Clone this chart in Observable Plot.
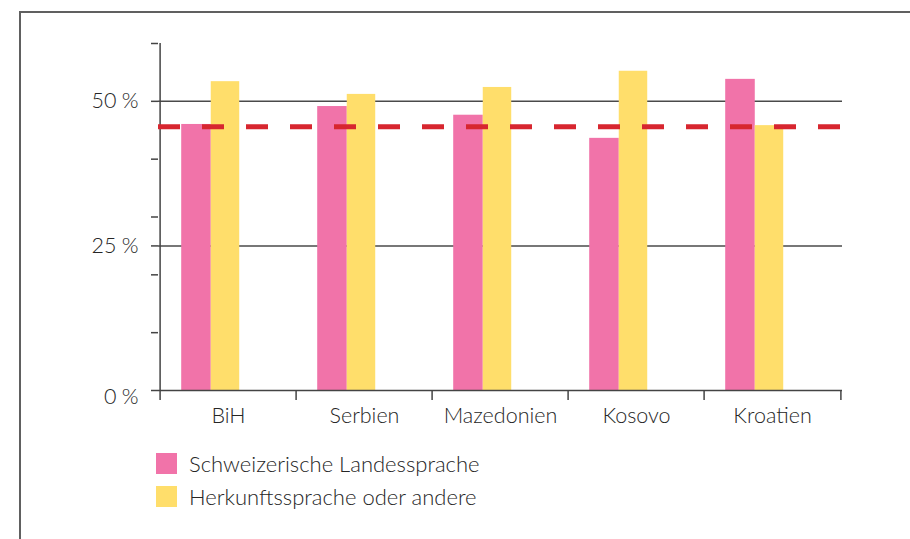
<!DOCTYPE html>
<html>
<head>
<meta charset="utf-8">
<script src="https://cdn.jsdelivr.net/npm/d3@7"></script>
<script src="https://cdn.jsdelivr.net/npm/@observablehq/plot@0.6"></script>
<style>
  html, body { margin: 0; padding: 0; background: #fff; }
  body { width: 910px; height: 539px; overflow: hidden; position: relative; font-family: Lato, "Noto Sans", sans-serif; font-weight: 300; color: #262626; }
  #frame { position: absolute; left: 19px; top: 11px; width: 1000px; height: 1000px; border-left: 2px solid #606060; border-top: 2px solid #606060; box-sizing: border-box; }
  #chart { position: absolute; left: 0; top: 0; }
  #legend { position: absolute; left: 156px; top: 453px; font-size: 22px; }
  .item { display: flex; align-items: center; height: 21px; margin-bottom: 12px; }
  .sw { width: 21px; height: 21px; margin-right: 12px; }
</style>
</head>
<body>
<div id="frame"></div>
<div id="chart"></div>
<div id="legend"></div>
<script>
const countries = ["BiH", "Serbien", "Mazedonien", "Kosovo", "Kroatien"];
const landessprache = [46.0, 49.1, 47.6, 43.6, 53.8];
const herkunft = [53.4, 51.2, 52.4, 55.2, 45.8];
const durchschnitt = [45.6];
const seriesNames = ["Schweizerische Landessprache", "Herkunftssprache oder andere"];
const seriesColors = ["#f173a9", "#ffde6b"];
const labelTicks = [25, 50];
const zeroTick = [0];
const minorTicks = [10, 20, 30, 40, 60];

const width = 910, height = 440;
const marginLeft = 158, marginRight = 68, marginTop = 43, marginBottom = 50;
const bw = (width - marginLeft - marginRight) / countries.length;

const rowsA = countries.map((c, i) => ({country: c, value: landessprache[i]}));
const rowsB = countries.map((c, i) => ({country: c, value: herkunft[i]}));

const fs = 21.5;
const textColor = "#262626";
const fmt = d => d + "\u202F%";
const chart = Plot.plot({
  width, height, marginLeft, marginRight, marginTop, marginBottom,
  style: {fontFamily: "Lato, 'Noto Sans', sans-serif", fontWeight: 300, fontSize: fs + "px", color: textColor, background: "transparent"},
  x: {type: "band", domain: countries, padding: 0, axis: null},
  y: {domain: [0, 60], axis: null},
  marks: [
    Plot.ruleY(labelTicks, {stroke: "#4a4a4a", strokeWidth: 1.5}),
    Plot.barY(rowsA, {x: "country", y: "value", fill: seriesColors[0], insetLeft: bw * 0.155, insetRight: bw * 0.623}),
    Plot.barY(rowsB, {x: "country", y: "value", fill: seriesColors[1], insetLeft: bw * 0.371, insetRight: bw * 0.415}),
    Plot.ruleY(zeroTick, {stroke: "#444", strokeWidth: 1.5}),
    Plot.gridX({ticks: countries.slice(0, 1), dx: -bw / 2, stroke: "#444", strokeOpacity: 1, strokeWidth: 1.5}),
    Plot.axisX({ticks: countries, tickSize: 10, text: null, label: null, dx: -bw / 2, stroke: "#444", strokeWidth: 1.5}),
    Plot.axisX({ticks: countries.slice(-1), tickSize: 10, text: null, label: null, dx: bw / 2, stroke: "#444", strokeWidth: 1.5}),
    Plot.axisX({ticks: countries, tickSize: 0, tickPadding: 17, label: null, fontSize: fs, fill: textColor}),
    Plot.axisY({ticks: minorTicks, tickSize: 7, text: null, label: null, stroke: "#444", strokeWidth: 1.5}),
    Plot.axisY({ticks: labelTicks.concat(zeroTick), tickSize: 7, text: null, label: null, stroke: "#444", strokeWidth: 1.5}),
    Plot.axisY({ticks: labelTicks, tickSize: 7, tickPadding: 13, label: null, stroke: "none", tickFormat: fmt, fontSize: fs, fill: textColor}),
    Plot.axisY({ticks: zeroTick, tickSize: 7, tickPadding: 13, label: null, stroke: "none", dy: 7, tickFormat: fmt, fontSize: fs, fill: textColor}),
    Plot.ruleY(durchschnitt, {stroke: "#d7262f", strokeWidth: 5, strokeDasharray: "22,22"})
  ]
});
document.getElementById("chart").appendChild(chart);

const legend = document.getElementById("legend");
seriesNames.forEach((name, i) => {
  const item = document.createElement("div");
  item.className = "item";
  const sw = document.createElement("div");
  sw.className = "sw";
  sw.style.background = seriesColors[i];
  const label = document.createElement("span");
  label.textContent = name;
  item.appendChild(sw);
  item.appendChild(label);
  legend.appendChild(item);
});
</script>
</body>
</html>
